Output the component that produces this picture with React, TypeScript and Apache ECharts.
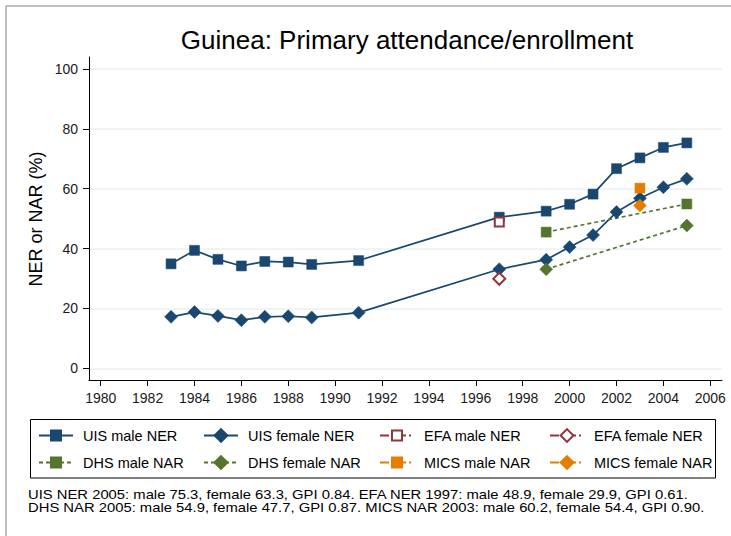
import React, { useEffect, useRef } from "react";
import * as echarts from "echarts";

const FONT = '"Liberation Sans", Arial, Helvetica, sans-serif';

const titleText = "Guinea: Primary attendance/enrollment";
const yAxisTitle = "NER or NAR (%)";
const footnoteLines = [
  "UIS NER 2005: male 75.3, female 63.3, GPI 0.84. EFA NER 1997: male 48.9, female 29.9, GPI 0.61.",
  "DHS NAR 2005: male 54.9, female 47.7, GPI 0.87. MICS NAR 2003: male 60.2, female 54.4, GPI 0.90.",
];

const xTicks = [1980, 1982, 1984, 1986, 1988, 1990, 1992, 1994, 1996, 1998, 2000, 2002, 2004, 2006];
const yTicks = [0, 20, 40, 60, 80, 100];

const uisYears = [1983, 1984, 1985, 1986, 1987, 1988, 1989, 1991, 1997, 1999, 2000, 2001, 2002, 2003, 2004, 2005];
const uisMale = [34.9, 39.4, 36.4, 34.2, 35.7, 35.5, 34.7, 36.0, 50.5, 52.5, 54.8, 58.2, 66.7, 70.3, 73.8, 75.3];
const uisFemale = [17.2, 18.8, 17.5, 16.1, 17.2, 17.4, 17.0, 18.6, 33.1, 36.3, 40.5, 44.5, 52.2, 56.8, 60.5, 63.3];

const efaYears = [1997];
const efaMale = [48.9];
const efaFemale = [29.9];

const dhsYears = [1999, 2005];
const dhsMale = [45.5, 54.9];
const dhsFemale = [33.1, 47.7];

const micsYears = [2003];
const micsMale = [60.2];
const micsFemale = [54.4];

const seriesNames = [
  "UIS male NER",
  "UIS female NER",
  "EFA male NER",
  "EFA female NER",
  "DHS male NAR",
  "DHS female NAR",
  "MICS male NAR",
  "MICS female NAR",
];

const NAVY = "#1a476f";
const MAROON = "#90353b";
const GREEN = "#55752f";
const ORANGE = "#e37e00";

const pairs = (xs: number[], ys: number[]) => xs.map((x, i) => [x, ys[i]]);

export default function App() {
  const ref = useRef<HTMLDivElement>(null);

  useEffect(() => {
    if (!ref.current) return;
    const chart = echarts.init(ref.current, null, { renderer: "svg" });

    const mkLine = (
      name: string,
      xs: number[],
      ys: number[],
      color: string,
      symbol: string,
      size: number,
      lineType: any
    ) => ({
      name,
      type: "line",
      data: pairs(xs, ys),
      symbol,
      symbolSize: size,
      showSymbol: true,
      showAllSymbol: true,
      itemStyle: symbol.startsWith("empty")
        ? { color, borderColor: color, borderWidth: 1.6 }
        : { color, borderColor: color, borderWidth: 0.5 },
      lineStyle: { color, width: 1.7, type: lineType },
      emphasis: { disabled: true },
      z: 3,
    });

    const dashDot = [9, 3, 2, 3];

    const series = [
      mkLine(seriesNames[0], uisYears, uisMale, NAVY, "rect", 10, "solid"),
      mkLine(seriesNames[1], uisYears, uisFemale, NAVY, "diamond", 13, "solid"),
      mkLine(seriesNames[2], efaYears, efaMale, MAROON, "emptyRect", 9, dashDot),
      mkLine(seriesNames[3], efaYears, efaFemale, MAROON, "emptyDiamond", 12, dashDot),
      mkLine(seriesNames[4], dhsYears, dhsMale, GREEN, "rect", 10, [4, 3]),
      mkLine(seriesNames[5], dhsYears, dhsFemale, GREEN, "diamond", 13, [4, 3]),
      mkLine(seriesNames[6], micsYears, micsMale, ORANGE, "rect", 10, dashDot),
      mkLine(seriesNames[7], micsYears, micsFemale, ORANGE, "diamond", 13, dashDot),
    ];

    const colX = [38, 203, 379, 549];
    const rowTop = [427.5, 454.5];
    const legends = seriesNames.map((name, i) => {
      const col = i % 4;
      const row = Math.floor(i / 4);
      const isDiamond = name.indexOf("female") >= 0;
      return {
        data: [name],
        left: colX[col],
        top: rowTop[row],
        orient: "horizontal",
        padding: 0,
        itemGap: 0,
        itemWidth: 34,
        itemHeight: isDiamond ? 16 : 12.5,
        selectedMode: false,
        textStyle: {
          fontSize: 14.5,
          lineHeight: 16,
          color: "#000",
          fontFamily: FONT,
          padding: [0, 0, 0, 5],
        },
      };
    });

    const option: any = {
      animation: false,
      backgroundColor: "#ffffff",
      grid: {
        left: 89,
        right: 9,
        top: 57,
        bottom: 156,
        containLabel: false,
      },
      xAxis: {
        type: "value",
        min: 1979.5,
        max: 2006.5,
        axisLine: { show: true, onZero: false, lineStyle: { color: "#000", width: 1 } },
        axisTick: {
          show: true,
          length: 6,
          customValues: xTicks,
          lineStyle: { color: "#000", width: 1 },
        },
        axisLabel: {
          customValues: xTicks,
          margin: 11,
          fontSize: 14,
          color: "#1a1a1a",
          fontFamily: FONT,
          formatter: (v: number) => String(v),
        },
        splitLine: { show: false },
      },
      yAxis: {
        type: "value",
        min: -3.9,
        max: 104.0,
        axisLine: { show: true, onZero: false, lineStyle: { color: "#000", width: 1 } },
        axisTick: {
          show: true,
          length: 6,
          customValues: yTicks,
          lineStyle: { color: "#000", width: 1 },
        },
        axisLabel: {
          customValues: yTicks,
          margin: 11,
          fontSize: 14,
          color: "#1a1a1a",
          fontFamily: FONT,
          formatter: (v: number) => String(v),
        },
        splitLine: { show: true, lineStyle: { color: "#eaf2f3", width: 1.5 } },
      },
      legend: legends,
      series,
      graphic: [
        {
          type: "rect",
          shape: { x: 6, y: 6, width: 760, height: 560 },
          style: { fill: "none", stroke: "#7f7f7f", lineWidth: 1 },
          silent: true,
        },
        {
          type: "text",
          x: 407,
          y: 40,
          style: {
            text: titleText,
            fontSize: 26,
            fontFamily: FONT,
            fill: "#000",
            align: "center",
            verticalAlign: "middle",
          },
        },
        {
          type: "text",
          x: 36,
          y: 219,
          rotation: Math.PI / 2,
          style: {
            text: yAxisTitle,
            fontSize: 18,
            fontFamily: FONT,
            fill: "#000",
            align: "center",
            verticalAlign: "middle",
          },
        },
        {
          type: "rect",
          shape: { x: 30.5, y: 419.5, width: 685, height: 58.5 },
          style: { fill: "none", stroke: "#000", lineWidth: 1 },
          silent: true,
        },
        {
          type: "text",
          x: 28,
          y: 494,
          scaleX: 1.14,
          style: {
            text: footnoteLines[0],
            fontSize: 13,
            lineHeight: 12,
            fontFamily: FONT,
            fill: "#000",
            align: "left",
            verticalAlign: "middle",
          },
        },
        {
          type: "text",
          x: 28,
          y: 507,
          scaleX: 1.14,
          style: {
            text: footnoteLines[1],
            fontSize: 13,
            lineHeight: 12,
            fontFamily: FONT,
            fill: "#000",
            align: "left",
            verticalAlign: "middle",
          },
        },
      ],
    };

    chart.setOption(option);
    return () => {
      chart.dispose();
    };
  }, []);

  return (
    <div
      ref={ref}
      style={{ position: "fixed", left: 0, top: 0, width: 731, height: 536, background: "#fff" }}
    />
  );
}
